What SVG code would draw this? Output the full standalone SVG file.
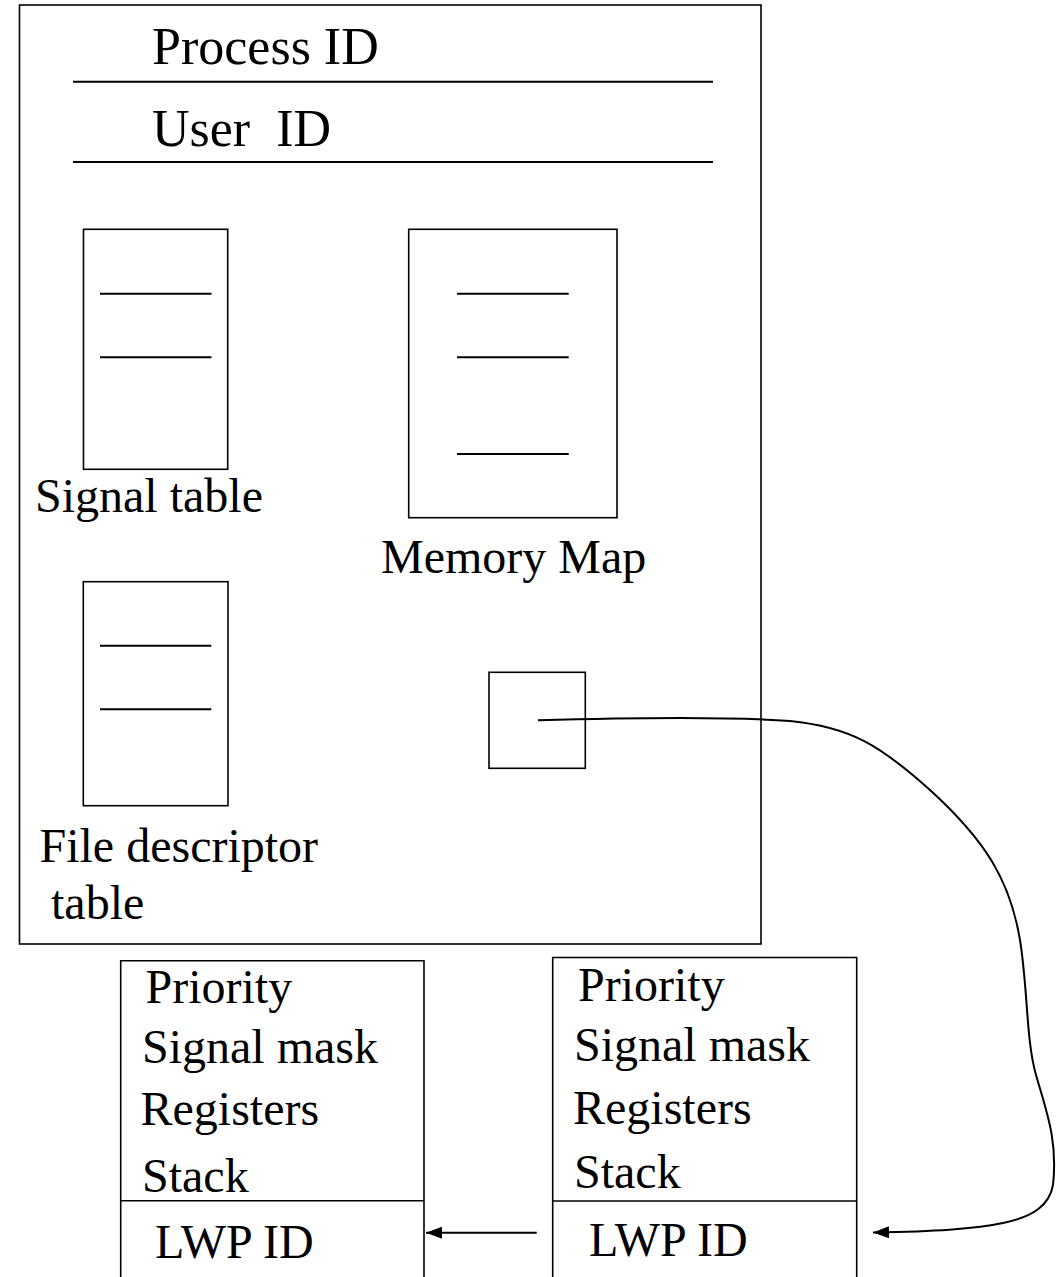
<svg xmlns="http://www.w3.org/2000/svg" width="1056" height="1277" viewBox="0 0 1056 1277">
<style>
  .box { fill: none; stroke: #000; stroke-width: 1.6; }
  .ln { stroke: #000; stroke-width: 2; }
  .t { font-family: "Liberation Serif", "Times New Roman", serif; font-size: 48px; fill: #000; }
  .tb { font-family: "Liberation Serif", "Times New Roman", serif; font-size: 52px; fill: #000; }
  .conn { fill: none; stroke: #000; stroke-width: 2; }
</style>
<defs>
  <marker id="arr" markerWidth="16" markerHeight="12" refX="16" refY="6" orient="auto" markerUnits="userSpaceOnUse">
    <path d="M0,0 L16,6 L0,12 z" fill="#000"/>
  </marker>
</defs>
<rect width="1056" height="1277" fill="#fff"/>

<g id="process">
  <rect class="box" x="19.5" y="5" width="741.5" height="939"/>
  <text class="tb" x="152" y="64">Process ID</text>
  <line class="ln" x1="73" y1="81.7" x2="713" y2="81.7"/>
  <text class="tb" x="152" y="146" xml:space="preserve">User  ID</text>
  <line class="ln" x1="73" y1="162" x2="713" y2="162"/>
</g>

<g id="signal-table">
  <rect class="box" x="83.5" y="229.3" width="144.2" height="240"/>
  <line class="ln" x1="100" y1="293.7" x2="211.5" y2="293.7"/>
  <line class="ln" x1="100" y1="357.3" x2="211.5" y2="357.3"/>
  <text class="t" x="35" y="511.7">Signal table</text>
</g>

<g id="memory-map">
  <rect class="box" x="408.7" y="229.3" width="208.3" height="288.4"/>
  <line class="ln" x1="457" y1="293.7" x2="568.7" y2="293.7"/>
  <line class="ln" x1="457" y1="357.3" x2="568.7" y2="357.3"/>
  <line class="ln" x1="457" y1="454" x2="568.7" y2="454"/>
  <text class="t" x="381" y="573.3">Memory Map</text>
</g>

<g id="file-descriptor-table">
  <rect class="box" x="83.3" y="581.7" width="144.7" height="224"/>
  <line class="ln" x1="100" y1="645.7" x2="211.3" y2="645.7"/>
  <line class="ln" x1="100" y1="709.3" x2="211.3" y2="709.3"/>
  <text class="t" x="39.5" y="861.7">File descriptor</text>
  <text class="t" x="51" y="919">table</text>
</g>

<g id="lwp-pointer">
  <rect class="box" x="489" y="672.3" width="96.3" height="96"/>
</g>

<g id="lwp-left">
  <path class="box" d="M120.7,1290 V960.7 H424 V1290"/>
  <text class="t" x="145.5" y="1003">Priority</text>
  <text class="t" x="142" y="1063">Signal mask</text>
  <text class="t" x="140.5" y="1125">Registers</text>
  <text class="t" x="142" y="1191.5">Stack</text>
  <line class="box" x1="120.7" y1="1200.7" x2="424" y2="1200.7"/>
  <text class="t" x="155" y="1258">LWP ID</text>
</g>

<g id="lwp-right">
  <path class="box" d="M552.7,1290 V957.5 H856.7 V1290"/>
  <text class="t" x="578" y="1001">Priority</text>
  <text class="t" x="574" y="1060.7">Signal mask</text>
  <text class="t" x="573" y="1124">Registers</text>
  <text class="t" x="574" y="1188.3">Stack</text>
  <line class="box" x1="552.7" y1="1201" x2="856.7" y2="1201"/>
  <text class="t" x="589" y="1256">LWP ID</text>
</g>

<g id="connectors">
  <path class="conn" d="M538,720.3 C620,718 720,716 790,721 C850,727 880,745 930,790 C985,840 1010,880 1020,940 C1028,990 1026,1040 1036,1075 C1046,1110 1058,1140 1053,1185 C1046,1225 990,1230 873,1232.6" marker-end="url(#arr)"/>
  <line class="conn" x1="536.7" y1="1232.7" x2="426" y2="1232.7" marker-end="url(#arr)"/>
</g>
</svg>
